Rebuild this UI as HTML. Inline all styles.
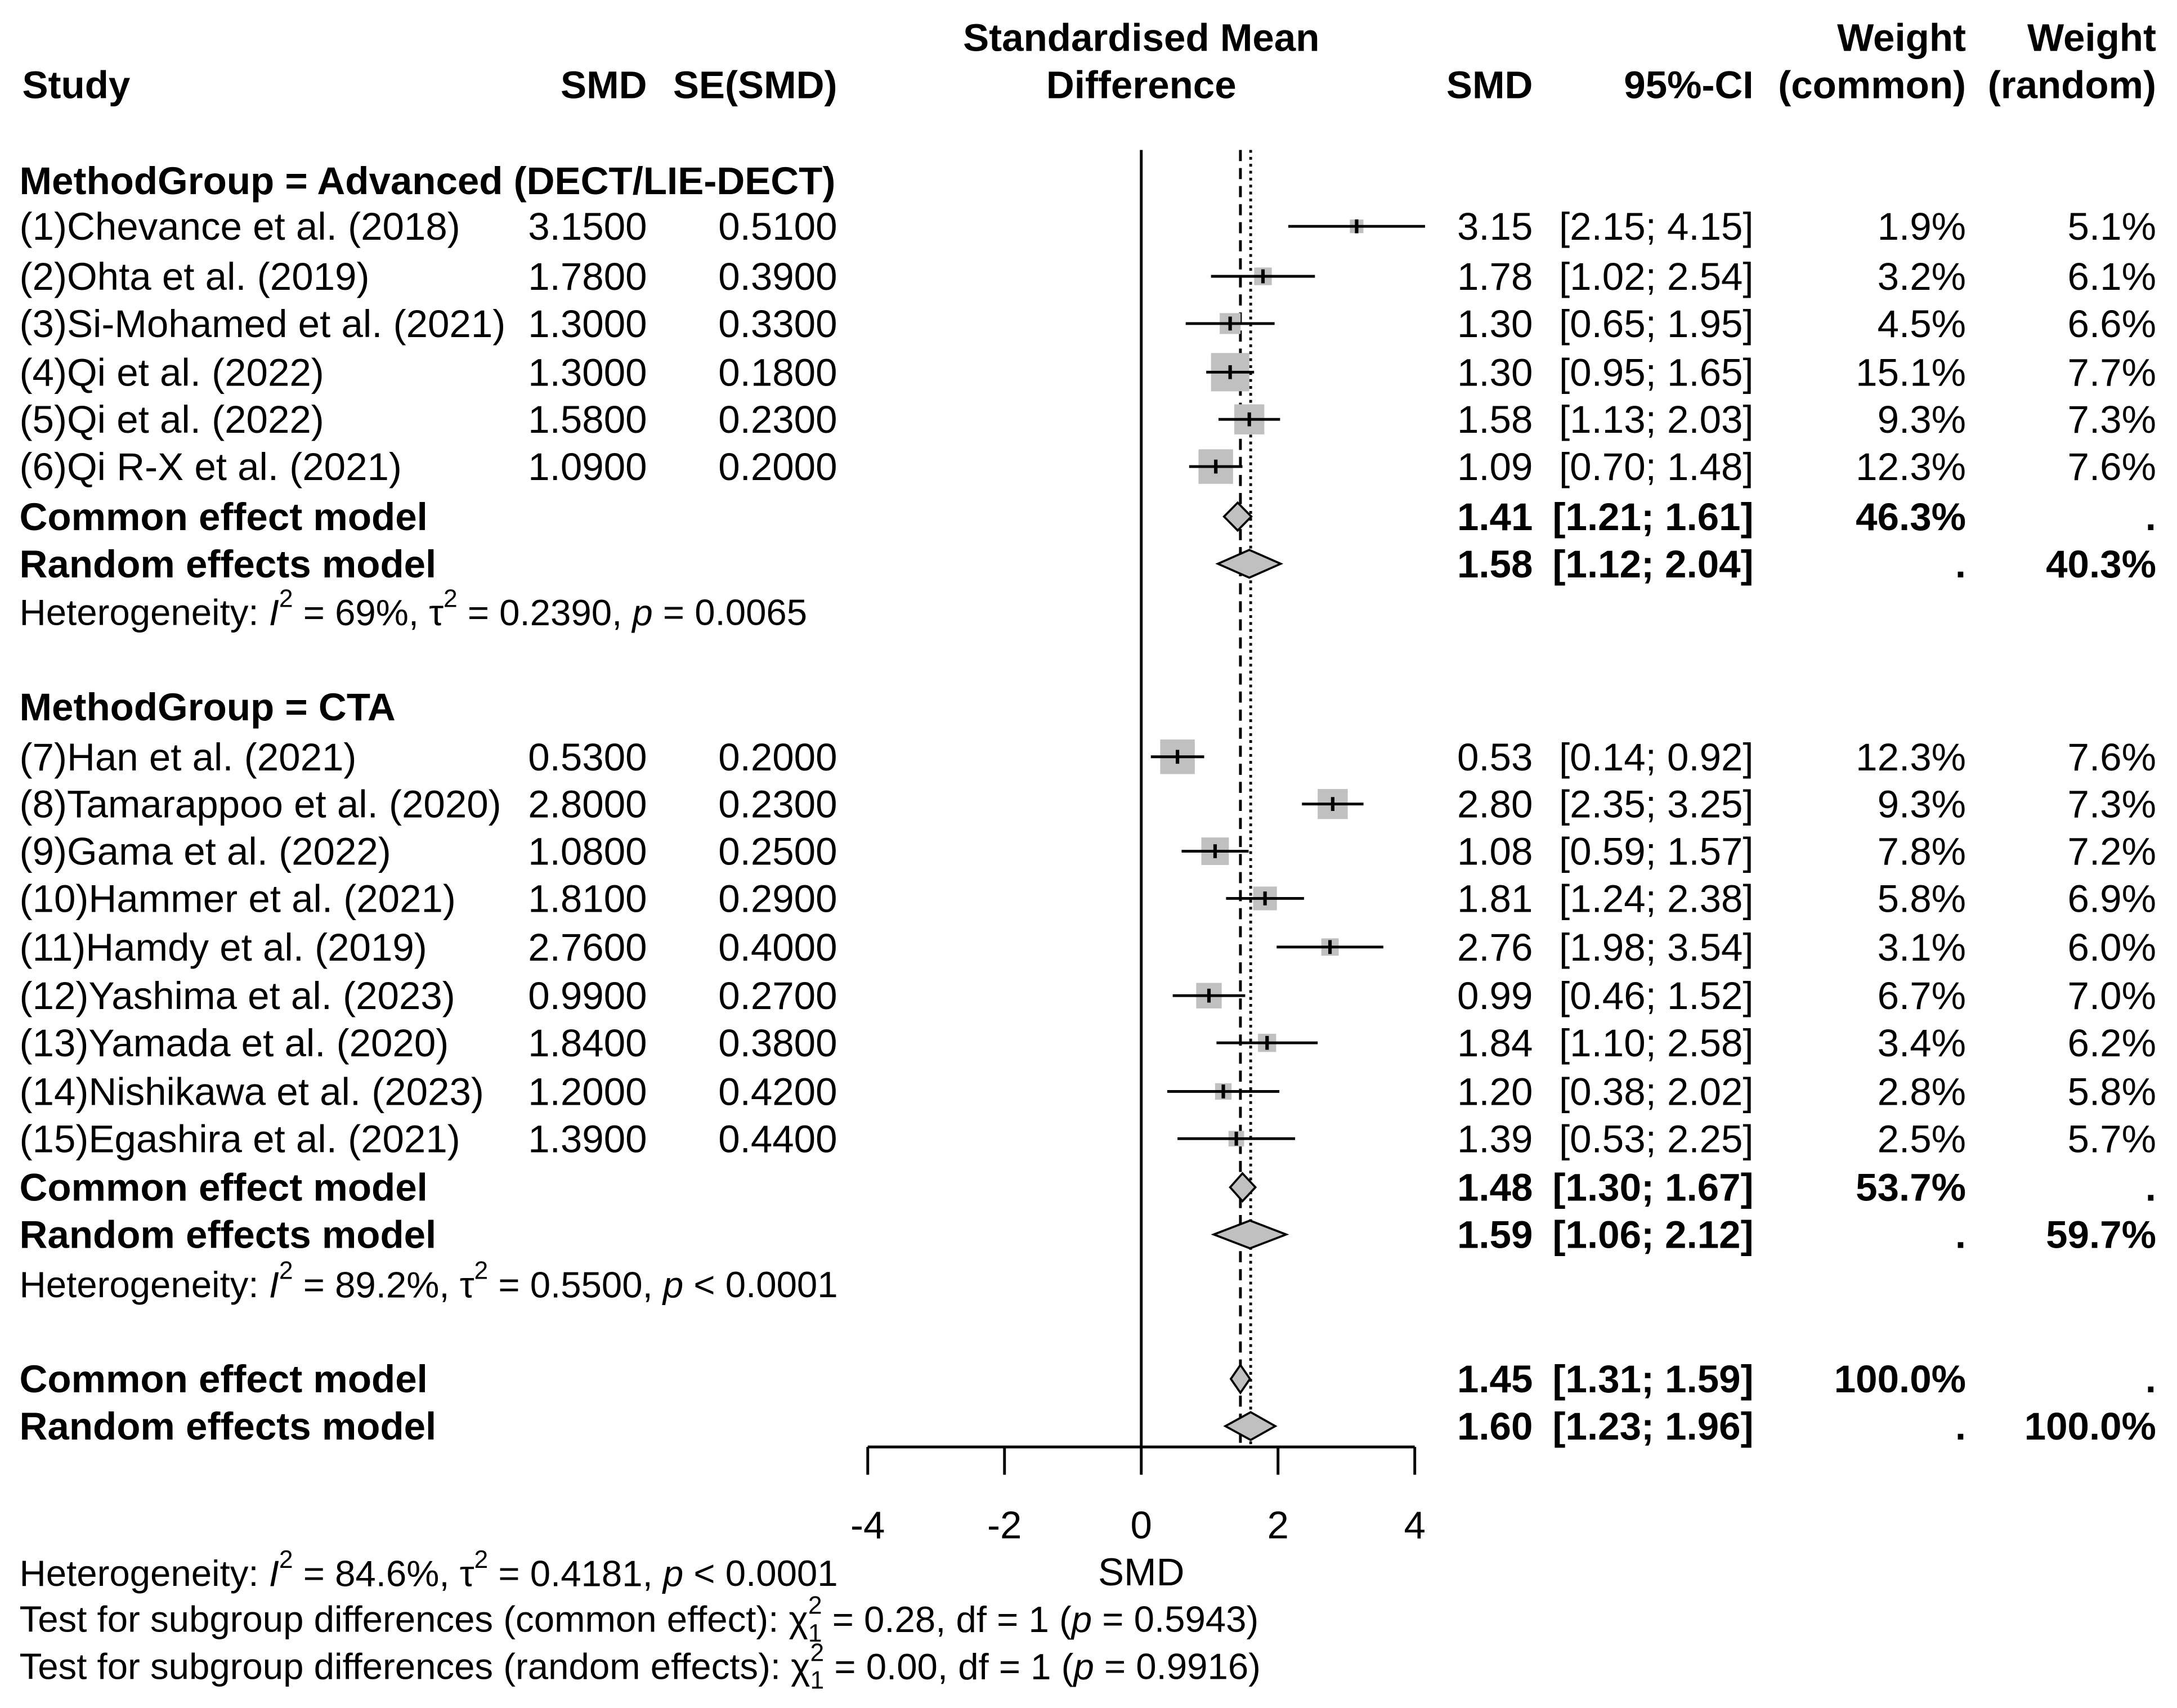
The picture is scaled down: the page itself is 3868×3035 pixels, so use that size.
<!DOCTYPE html>
<html><head><meta charset="utf-8"><style>
html,body{margin:0;padding:0;background:#fff}
svg{display:block}
text{font-family:"Liberation Sans",Arial,sans-serif;fill:#000}
</style></head><body>
<svg id="chart" xmlns="http://www.w3.org/2000/svg" width="3868" height="3035" viewBox="0 0 1568 1230" preserveAspectRatio="none">
<rect width="1568" height="1230" fill="#fff"/>
</svg>
<script>
const studies = ["(1)Chevance et al. (2018)","(2)Ohta et al. (2019)","(3)Si-Mohamed et al. (2021)","(4)Qi et al. (2022)","(5)Qi et al. (2022)","(6)Qi R-X et al. (2021)","(7)Han et al. (2021)","(8)Tamarappoo et al. (2020)","(9)Gama et al. (2022)","(10)Hammer et al. (2021)","(11)Hamdy et al. (2019)","(12)Yashima et al. (2023)","(13)Yamada et al. (2020)","(14)Nishikawa et al. (2023)","(15)Egashira et al. (2021)"];
const smd = [3.15,1.78,1.30,1.30,1.58,1.09,0.53,2.80,1.08,1.81,2.76,0.99,1.84,1.20,1.39];
const se = [0.51,0.39,0.33,0.18,0.23,0.20,0.20,0.23,0.25,0.29,0.40,0.27,0.38,0.42,0.44];
const lower = [2.15,1.02,0.65,0.95,1.13,0.70,0.14,2.35,0.59,1.24,1.98,0.46,1.10,0.38,0.53];
const upper = [4.15,2.54,1.95,1.65,2.03,1.48,0.92,3.25,1.57,2.38,3.54,1.52,2.58,2.02,2.25];
const wCommon = [1.9,3.2,4.5,15.1,9.3,12.3,12.3,9.3,7.8,5.8,3.1,6.7,3.4,2.8,2.5];
const wRandom = [5.1,6.1,6.6,7.7,7.3,7.6,7.6,7.3,7.2,6.9,6.0,7.0,6.2,5.8,5.7];
const studyRows = [163,199,233,268,302,336,545,579,613,647,682,717,751,786,820];
const pooledLabels = ["Common effect model","Random effects model","Common effect model","Random effects model","Common effect model","Random effects model"];
const pooledEst = [1.41,1.58,1.48,1.59,1.45,1.60];
const pooledLo = [1.21,1.12,1.30,1.06,1.31,1.23];
const pooledHi = [1.61,2.04,1.67,2.12,1.59,1.96];
const pooledWC = ["46.3%",".","53.7%",".","100.0%","."];
const pooledWR = [".","40.3%",".","59.7%",".","100.0%"];
const pooledRows = [372,406,855,889,993,1027];
const ticks = [-4,-2,0,2,4];

const NS="http://www.w3.org/2000/svg";
const svg=document.getElementById('chart');
const X0=822, U=49.25;
function xs(v){return X0+v*U;}
function mk(tag,attrs,name,txt){const e=document.createElementNS(NS,tag);for(const k in attrs)e.setAttribute(k,attrs[k]);


if(txt!==undefined)e.textContent=txt;svg.appendChild(e);return e;}
function t(x,y,s,name,opt){opt=opt||{};return mk('text',{x:x,y:y,'font-size':opt.fs||28,'font-weight':opt.b?'bold':'normal','text-anchor':opt.a||'start','dominant-baseline':'central'},name,s);}
function f2(v){return v.toFixed(2);}

t(16,61,"Study","header-study",{b:1});
t(466,61,"SMD","header-smd",{b:1,a:'end'});
t(603,61,"SE(SMD)","header-se",{b:1,a:'end'});
t(822,27,"Standardised Mean","header-plot-1",{b:1,a:'middle'});
t(822,61,"Difference","header-plot-2",{b:1,a:'middle'});
t(1104,61,"SMD","header-smd-2",{b:1,a:'end'});
t(1263,61,"95%-CI","header-ci",{b:1,a:'end'});
t(1416,27,"Weight","header-weight-common-1",{b:1,a:'end'});
t(1416,61,"(common)","header-weight-common-2",{b:1,a:'end'});
t(1553,27,"Weight","header-weight-random-1",{b:1,a:'end'});
t(1553,61,"(random)","header-weight-random-2",{b:1,a:'end'});
t(14,130,"MethodGroup = Advanced (DECT/LIE-DECT)","group-title-advanced",{b:1});
t(14,509,"MethodGroup = CTA","group-title-cta",{b:1});

mk('line',{x1:xs(0),x2:xs(0),y1:108,y2:1042,stroke:'#000','stroke-width':2},'null-line');
mk('line',{x1:xs(pooledEst[4]),x2:xs(pooledEst[4]),y1:108,y2:1042,stroke:'#000','stroke-width':2,'stroke-dasharray':'8,5'},'common-effect-line');
mk('line',{x1:xs(pooledEst[5]),x2:xs(pooledEst[5]),y1:108,y2:1042,stroke:'#000','stroke-width':2,'stroke-dasharray':'2,3'},'random-effect-line');

for(let i=0;i<studies.length;i++){
  const y=studyRows[i];
  t(14,y,studies[i],'study-label');
  t(466,y,smd[i].toFixed(4),'study-smd',{a:'end'});
  t(603,y,se[i].toFixed(4),'study-se',{a:'end'});
  const s=7.1*Math.sqrt(wCommon[i]);
  mk('rect',{x:xs(smd[i])-s/2,y:y-s/2,width:s,height:s,fill:'#c0c0c0'},'study-box');
  mk('line',{x1:xs(lower[i]),x2:xs(upper[i]),y1:y,y2:y,stroke:'#000','stroke-width':2},'study-ci');
  mk('line',{x1:xs(smd[i]),x2:xs(smd[i]),y1:y-5,y2:y+5,stroke:'#000','stroke-width':2.5},'study-point');
  t(1104,y,f2(smd[i]),'study-smd-value',{a:'end'});
  t(1263,y,'['+f2(lower[i])+'; '+f2(upper[i])+']','study-ci-value',{a:'end'});
  t(1416,y,wCommon[i].toFixed(1)+'%','study-weight-common',{a:'end'});
  t(1553,y,wRandom[i].toFixed(1)+'%','study-weight-random',{a:'end'});
}
for(let i=0;i<pooledLabels.length;i++){
  const y=pooledRows[i];
  t(14,y,pooledLabels[i],'pooled-label',{b:1});
  const h=10;
  mk('polygon',{points:[xs(pooledLo[i])+','+y,xs(pooledEst[i])+','+(y-h),xs(pooledHi[i])+','+y,xs(pooledEst[i])+','+(y+h)].join(' '),fill:'#c0c0c0',stroke:'#000','stroke-width':1.5},'pooled-diamond');
  t(1104,y,f2(pooledEst[i]),'pooled-smd',{a:'end',b:1});
  t(1263,y,'['+f2(pooledLo[i])+'; '+f2(pooledHi[i])+']','pooled-ci',{a:'end',b:1});
  t(1416,y,pooledWC[i],'pooled-weight-common',{a:'end',b:1});
  t(1553,y,pooledWR[i],'pooled-weight-random',{a:'end',b:1});
}
function het(y,parts,name){
  const e=mk('text',{x:14,y:y,'font-size':26.5,'dominant-baseline':'central'},name);
  e.innerHTML=parts;
}
het(441,'Heterogeneity: <tspan font-style="italic">I</tspan><tspan dy="-10" font-size="18">2</tspan><tspan dy="10"> = 69%, τ</tspan><tspan dy="-10" font-size="18">2</tspan><tspan dy="10"> = 0.2390, </tspan><tspan font-style="italic">p</tspan> = 0.0065','heterogeneity-advanced');
het(925,'Heterogeneity: <tspan font-style="italic">I</tspan><tspan dy="-10" font-size="18">2</tspan><tspan dy="10"> = 89.2%, τ</tspan><tspan dy="-10" font-size="18">2</tspan><tspan dy="10"> = 0.5500, </tspan><tspan font-style="italic">p</tspan> &lt; 0.0001','heterogeneity-cta');
het(1133,'Heterogeneity: <tspan font-style="italic">I</tspan><tspan dy="-10" font-size="18">2</tspan><tspan dy="10"> = 84.6%, τ</tspan><tspan dy="-10" font-size="18">2</tspan><tspan dy="10"> = 0.4181, </tspan><tspan font-style="italic">p</tspan> &lt; 0.0001','heterogeneity-overall');
het(1166,'Test for subgroup differences (common effect): χ<tspan dy="-10" font-size="18">2</tspan><tspan dx="-10" dy="20" font-size="18">1</tspan><tspan dy="-10"> = 0.28, df = 1 (</tspan><tspan font-style="italic">p</tspan> = 0.5943)','subgroup-test-common');
het(1200,'Test for subgroup differences (random effects): χ<tspan dy="-10" font-size="18">2</tspan><tspan dx="-10" dy="20" font-size="18">1</tspan><tspan dy="-10"> = 0.00, df = 1 (</tspan><tspan font-style="italic">p</tspan> = 0.9916)','subgroup-test-random');

mk('line',{x1:xs(ticks[0]),x2:xs(ticks[ticks.length-1]),y1:1042,y2:1042,stroke:'#000','stroke-width':2},'x-axis');
for(const v of ticks){
  mk('line',{x1:xs(v),x2:xs(v),y1:1042,y2:1062,stroke:'#000','stroke-width':2},'x-tick');
  t(xs(v),1098,String(v),'x-tick-label',{a:'middle'});
}
t(822,1132,"SMD","x-axis-title",{a:'middle'});
</script>
</body></html>
